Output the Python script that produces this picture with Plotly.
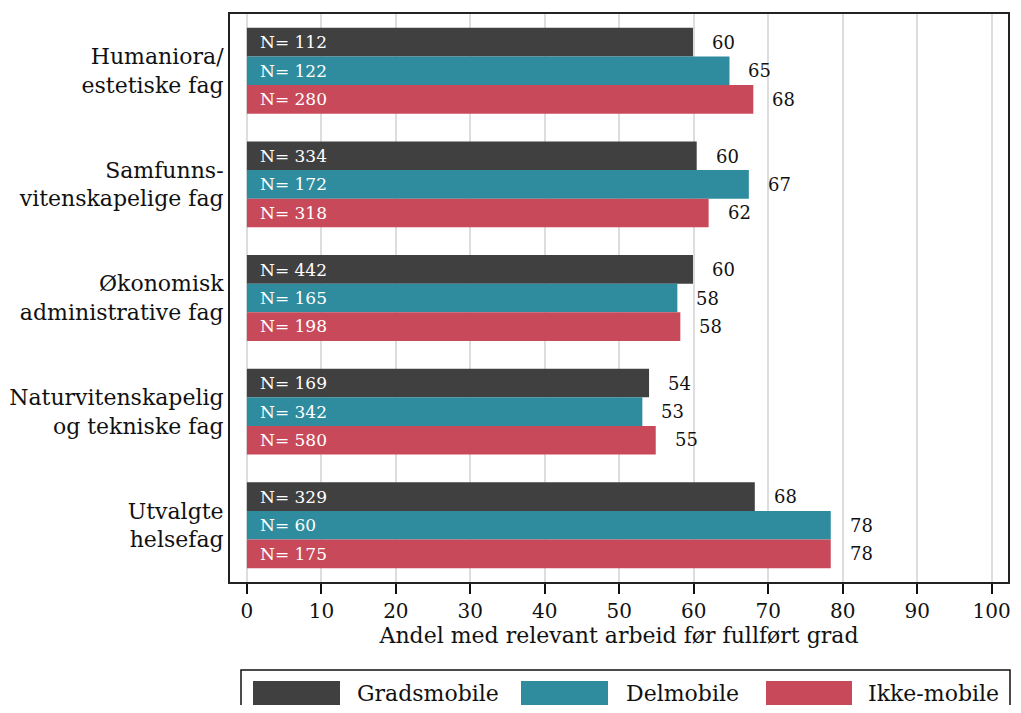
import plotly.graph_objects as go

categories = ["Humaniora/<br>estetiske fag", "Samfunns-<br>vitenskapelige fag",
              "Økonomisk<br>administrative fag", "Naturvitenskapelig<br>og tekniske fag",
              "Utvalgte<br>helsefag"]
series_names = ["Gradsmobile", "Delmobile", "Ikke-mobile"]
gradsmobile = [59.9, 60.4, 59.9, 54.0, 68.2]
delmobile = [64.8, 67.4, 57.8, 53.1, 78.4]
ikke_mobile = [68.0, 62.0, 58.2, 54.9, 78.4]
n_gradsmobile = [112, 334, 442, 169, 329]
n_delmobile = [122, 172, 165, 342, 60]
n_ikke_mobile = [280, 318, 198, 580, 175]
x_ticks = [0, 10, 20, 30, 40, 50, 60, 70, 80, 90, 100]
x_title = "Andel med relevant arbeid før fullført grad"

colors = ["#404040", "#2e8c9e", "#c84a5a"]
values = [gradsmobile, delmobile, ikke_mobile]
ns = [n_gradsmobile, n_delmobile, n_ikke_mobile]

FONT = "DejaVu Serif"
fig = go.Figure()
for name, vals, col in zip(series_names, values, colors):
    fig.add_trace(go.Bar(y=categories, x=vals, name=name, orientation="h",
                         marker=dict(color=col, line=dict(width=0)), showlegend=False))

bargap = 0.244
bar_px = 112.5 * (1 - bargap) / 3
shifts = [bar_px, 0, -bar_px]
annotations = []
for vals, nn, sh in zip(values, ns, shifts):
    for cat, v, n in zip(categories, vals, nn):
        annotations.append(dict(x=0, y=cat, xref="x", yref="y", text=f"N= {n}",
                                showarrow=False, xanchor="left", xshift=11, yshift=sh,
                                font=dict(family=FONT, size=17, color="white")))
        annotations.append(dict(x=v, y=cat, xref="x", yref="y", text=f"{round(v)}",
                                showarrow=False, xanchor="left", xshift=17, yshift=sh,
                                font=dict(family=FONT, size=18, color="#111")))

# page body has an 8px margin: compensate so the page does not overflow
OFF = 8
LEFT_PX = 230
L, T, PW, PH = LEFT_PX - OFF, 14 - OFF, 778, 568
FW, FH = 1021 - 2 * OFF, 713 - 2 * OFF

def px_x(p):
    return (p - LEFT_PX) / PW
def px_y(p):
    return (582 - p) / PH

shapes = [dict(type="rect", xref="paper", yref="paper", x0=px_x(241), x1=px_x(1010),
               y0=px_y(740), y1=px_y(670), line=dict(color="#111", width=1.5),
               fillcolor="white")]
sw = [(253, 340, 355), (521, 608, 624), (766, 852, 866)]
for (a, b, t), name, col in zip(sw, series_names, colors):
    shapes.append(dict(type="rect", xref="paper", yref="paper", x0=px_x(a), x1=px_x(b),
                       y0=px_y(708), y1=px_y(681), line=dict(width=0), fillcolor=col))
    annotations.append(dict(x=px_x(t), y=px_y(693), xref="paper", yref="paper", text=name,
                            showarrow=False, xanchor="left", yanchor="middle",
                            font=dict(family=FONT, size=22, color="#111")))

fig.update_layout(
    width=FW, height=FH, barmode="group", bargap=bargap, bargroupgap=0,
    margin=dict(l=L, r=FW - L - PW, t=T, b=FH - T - PH, pad=0),
    plot_bgcolor="white", paper_bgcolor="white",
    font=dict(family=FONT, size=22, color="#111"),
    annotations=annotations, shapes=shapes,
    xaxis=dict(range=[-2.27, 102.2], tickvals=x_ticks, ticks="outside", ticklen=10,
               tickwidth=1.5, tickcolor="#111", showgrid=True, gridcolor="#dddddd",
               gridwidth=2, showline=True, linecolor="#222", linewidth=2, mirror=True,
               zeroline=False, automargin=False,
               title=dict(text=x_title, standoff=2, font=dict(family=FONT, size=22)),
               tickfont=dict(family=FONT, size=20)),
    yaxis=dict(autorange="reversed", showline=True, linecolor="#222", linewidth=2,
               mirror=True, showgrid=False, ticks="", automargin=False,
               tickfont=dict(family=FONT, size=22)),
)
fig.write_html("out.html")
